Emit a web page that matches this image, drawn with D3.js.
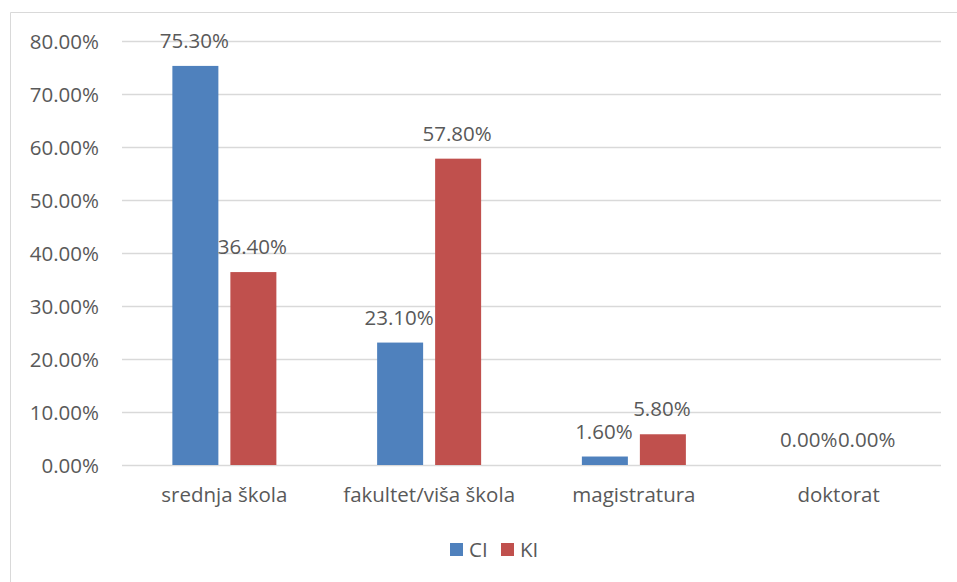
<!DOCTYPE html>
<html>
<head>
<meta charset="utf-8">
<script src="https://cdn.jsdelivr.net/npm/d3@7"></script>
<style>
  html, body { margin: 0; padding: 0; background: #fff; }
  svg { display: block; }
  text { font-family: "Open Sans", "Noto Sans", sans-serif; fill: #595959; }
</style>
</head>
<body>
<svg id="chart" width="957" height="582"></svg>
<script>
// Education level shares for the two groups
const categories = ["srednja škola", "fakultet/viša škola", "magistratura", "doktorat"];
const seriesNames = ["CI", "KI"];
const ciValues = [75.3, 23.1, 1.6, 0.0];
const kiValues = [36.4, 57.8, 5.8, 0.0];
const yTicks = [0, 10, 20, 30, 40, 50, 60, 70, 80];
const colors = ["#4f81bd", "#c0504d"];

const series = [ciValues, kiValues];

const W = 957, H = 582;
const plot = { left: 122, right: 941, top: 41, bottom: 465 };
const FS = 20.5;

const svg = d3.select("#chart");

// Chart frame (left and top edges visible)
svg.append("path")
  .attr("d", `M10.5,${H} V12.5 H${W}`)
  .attr("fill", "none")
  .attr("stroke", "#d9d9d9")
  .attr("stroke-width", 1);

const x0 = d3.scaleBand()
  .domain(categories)
  .range([plot.left, plot.right])
  .paddingInner(0)
  .paddingOuter(0);

// Two bars of 46px with a 12px gap, centered in each category band
const barW = 46, gap = 12;
const x1 = d3.scaleOrdinal()
  .domain(seriesNames)
  .range([-(gap / 2 + barW), gap / 2]);

const y = d3.scaleLinear().domain([0, 80]).range([plot.bottom, plot.top]);

// Gridlines
svg.append("g")
  .selectAll("line")
  .data(yTicks)
  .join("line")
  .attr("x1", plot.left)
  .attr("x2", plot.right)
  .attr("y1", d => Math.round(y(d)) + 0.5)
  .attr("y2", d => Math.round(y(d)) + 0.5)
  .attr("stroke", "#d9d9d9")
  .attr("stroke-width", 1.3);

// Y axis labels
const yAxis = d3.axisLeft(y)
  .tickValues(yTicks)
  .tickFormat(d => d.toFixed(2) + "%")
  .tickSize(0)
  .tickPadding(0);

const yg = svg.append("g")
  .attr("transform", `translate(99,0)`)
  .call(yAxis);
yg.select(".domain").remove();
yg.selectAll("text")
  .attr("font-size", FS)
  .attr("font-family", "'Open Sans', sans-serif")
  .attr("fill", "#595959")
  .attr("dy", "0.35em");

// X axis category labels
const xAxis = d3.axisBottom(x0).tickSize(0).tickPadding(0);
const xg = svg.append("g")
  .attr("transform", `translate(0,${plot.bottom})`)
  .call(xAxis);
xg.select(".domain").remove();
xg.selectAll("text")
  .attr("font-size", FS)
  .attr("font-family", "'Open Sans', sans-serif")
  .attr("fill", "#595959")
  .attr("dy", null)
  .attr("y", 37);

// Bars
const groups = svg.append("g")
  .selectAll("g")
  .data(categories)
  .join("g")
  .attr("transform", d => `translate(${x0(d) + x0.bandwidth() / 2},0)`);

groups.selectAll("rect")
  .data((c, i) => seriesNames.map((s, k) => ({ s, k, v: series[k][i] })))
  .join("rect")
  .attr("x", d => x1(d.s))
  .attr("width", barW)
  .attr("y", d => y(d.v))
  .attr("height", d => y(0) - y(d.v))
  .attr("fill", d => colors[d.k]);

// Value labels
groups.selectAll("text.val")
  .data((c, i) => seriesNames.map((s, k) => ({ s, k, v: series[k][i] })))
  .join("text")
  .attr("class", "val")
  .attr("x", d => x1(d.s) + barW / 2 - 1)
  .attr("y", d => y(d.v) - 18)
  .attr("text-anchor", "middle")
  .attr("font-size", FS)
  .text(d => d.v.toFixed(2) + "%");

// Legend
const legend = svg.append("g").attr("transform", "translate(450,543)");
const items = [{ name: "CI", x: 0 }, { name: "KI", x: 51 }];
items.forEach((it, k) => {
  legend.append("rect")
    .attr("x", it.x).attr("y", 0)
    .attr("width", 13).attr("height", 13)
    .attr("fill", colors[k]);
  legend.append("text")
    .attr("x", it.x + 19)
    .attr("y", 7)
    .attr("dy", "0.35em")
    .attr("font-size", FS)
    .text(it.name);
});
</script>
</body>
</html>
